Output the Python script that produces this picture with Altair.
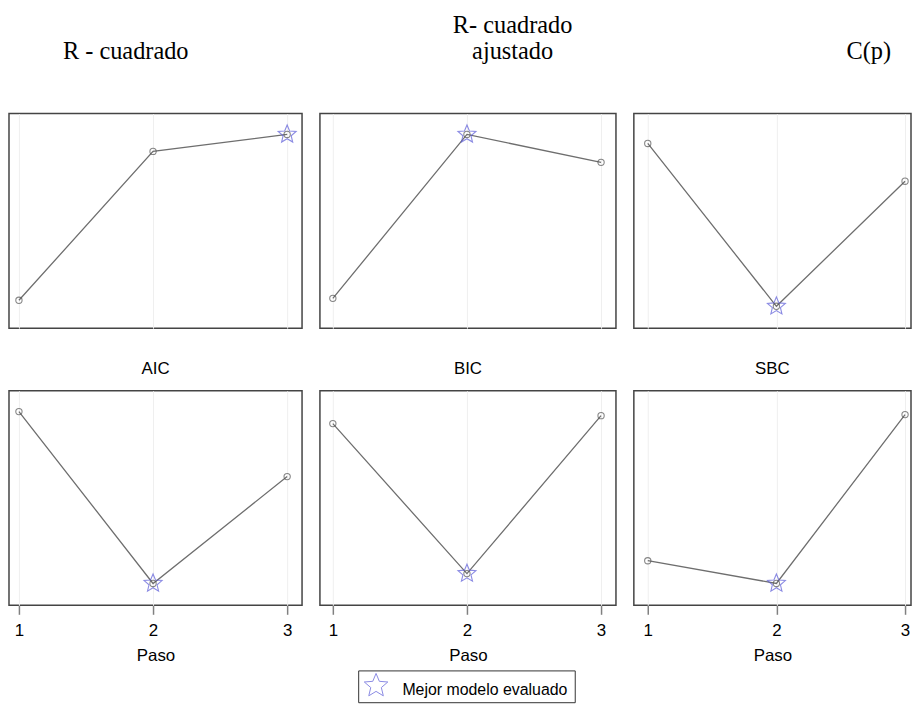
import altair as alt
import pandas as pd

# ---- data (normalised position of each criterion) ----
steps = [1, 2, 3]
r2 = [0.13, 0.824, 0.903]
r2_adj = [0.139, 0.903, 0.773]
cp = [0.861, 0.102, 0.685]
aic = [0.903, 0.102, 0.60]
bic = [0.847, 0.148, 0.884]
sbc = [0.208, 0.102, 0.889]

top_titles = ["R - cuadrado", ["R- cuadrado", "ajustado"], "C(p)"]
bottom_titles = ["AIC", "BIC", "SBC"]
best_top = [3, 2, 2]
best_bottom = [2, 2, 2]
x_title = "Paso"
legend_label = "Mejor modelo evaluado"

# ---- styling / layout ----
PANEL_H = 216
widths = [295, 298, 279]
x_domains = [[0.9259, 3.1111], [0.9037, 3.1111], [0.8919, 3.0463]]
top_dx = [-30, 45, 97]
PAD_TOP = 1
LINE_C = "#6e6e6e"
PT_C = "#555555"
STAR_C = "#5a5ad8"
SANS = "Liberation Sans"
SERIF = "Liberation Serif"
# five-pointed star as a custom symbol path (unit box)
STAR = ("M0,-1L0.2645,-0.3641L0.9511,-0.309L0.428,0.1391L0.5878,0.809L0,0.45"
        "L-0.5878,0.809L-0.428,0.1391L-0.9511,-0.309L-0.2645,-0.3641Z")


def legend_layers():
    ldf = pd.DataFrame({"lab": [legend_label]})
    box = alt.Chart(ldf).mark_rect(fill="white", stroke="#333333",
                                   strokeWidth=1).encode(
        x=alt.value(39), x2=alt.value(257), y=alt.value(282), y2=alt.value(314))
    sym = alt.Chart(ldf).mark_point(shape=STAR, filled=False, size=620,
                                    color=STAR_C, strokeWidth=1).encode(
        x=alt.value(56.5), y=alt.value(297))
    txt = alt.Chart(ldf).mark_text(align="left", baseline="alphabetic", font=SANS,
                                   fontSize=16, color="black").encode(
        x=alt.value(83), y=alt.value(306), text="lab:N")
    return [box, sym, txt]


def panel(values, best, col, title, bottom, with_legend=False):
    df = pd.DataFrame({"Paso": steps, "v": values})
    sdf = pd.DataFrame({"Paso": [best], "v": [values[steps.index(best)]]})
    if bottom:
        axis = alt.Axis(values=steps, title=x_title, grid=True, gridColor="#efefef",
                        domain=False, ticks=True, tickSize=9, tickColor="#808080",
                        tickWidth=1.5, labelFont=SANS, labelFontSize=17,
                        labelColor="black", labelPadding=8, titleFont=SANS,
                        titleFontSize=17, titleFontWeight="normal", titleColor="black",
                        titlePadding=10)
        tparams = alt.TitleParams(text=title, font=SANS, fontSize=17,
                                  fontWeight="normal", color="black", offset=13)
    else:
        axis = alt.Axis(values=steps, title=None, grid=True, gridColor="#efefef",
                        domain=False, ticks=False, labels=False)
        tparams = alt.TitleParams(text=title, font=SERIF, fontSize=24.5,
                                  fontWeight="normal", color="black", offset=49,
                                  dx=top_dx[col], lineHeight=27)
    x = alt.X("Paso:Q", scale=alt.Scale(domain=x_domains[col], nice=False, zero=False),
              axis=axis)
    y = alt.Y("v:Q", scale=alt.Scale(domain=[0, 1]), axis=None)
    line = alt.Chart(df).mark_line(color=LINE_C, strokeWidth=1.3).encode(x=x, y=y)
    pts = alt.Chart(df).mark_point(shape="circle", filled=False, size=40, color=PT_C,
                                   strokeWidth=1.1).encode(x=x, y=y)
    star = alt.Chart(sdf).mark_point(shape=STAR, filled=False, size=360,
                                     color=STAR_C, strokeWidth=1.1).encode(x=x, y=y)
    layers = [line, pts, star]
    if with_legend:
        layers += legend_layers()
    return alt.layer(*layers).properties(width=widths[col], height=PANEL_H,
                                         title=tparams)


row1 = alt.hconcat(*[panel(v, b, i, t, False) for i, (v, b, t) in
                     enumerate(zip([r2, r2_adj, cp], best_top, top_titles))], spacing=16)
row2 = alt.hconcat(*[panel(v, b, i, t, True, with_legend=(i == 1)) for i, (v, b, t) in
                     enumerate(zip([aic, bic, sbc], best_bottom, bottom_titles))],
                   spacing=16)

chart = alt.vconcat(row1, row2, spacing=30).properties(
    padding={"left": 0, "top": PAD_TOP, "right": 0, "bottom": 0}
).configure_view(stroke="#444444", strokeWidth=1.5)

chart.save("out.html", embed_options={"renderer": "svg", "actions": False})
